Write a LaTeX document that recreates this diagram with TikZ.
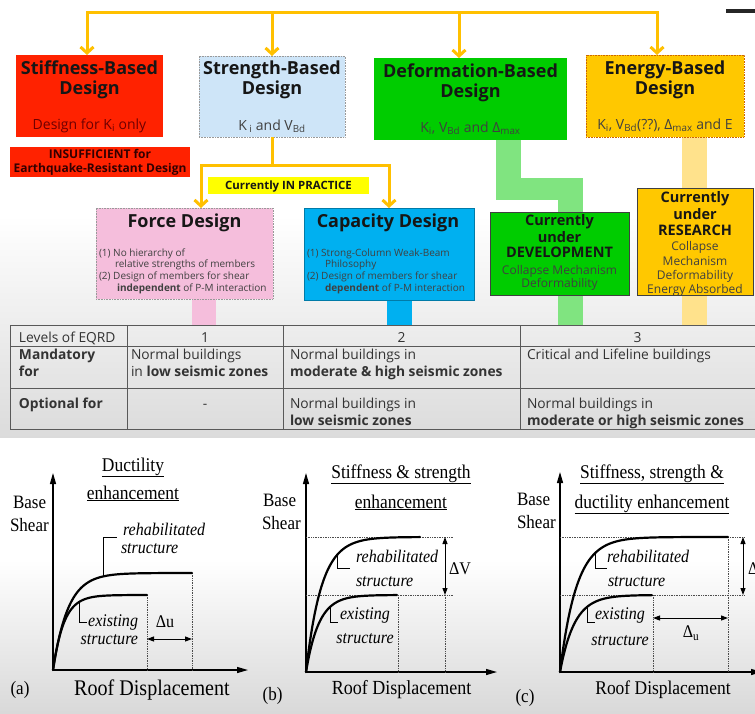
\documentclass[tikz,border=0pt]{standalone}
\usepackage{fontspec}
\setmainfont{Open Sans}
\newfontfamily\plotfont[FakeStretch=0.9]{Liberation Serif}
\usetikzlibrary{arrows.meta}
\definecolor{arrowyel}{RGB}{255,192,0}
\definecolor{stiffred}{RGB}{255,34,0}
\definecolor{strblue}{RGB}{206,229,248}
\definecolor{defgreen}{RGB}{0,204,0}
\definecolor{engyel}{RGB}{255,200,0}
\definecolor{practyel}{RGB}{255,255,0}
\definecolor{forcepink}{RGB}{245,190,220}
\definecolor{capblue}{RGB}{0,176,240}
\definecolor{lgreen}{RGB}{128,228,128}
\definecolor{lyel}{RGB}{255,226,140}
\definecolor{txtdark}{RGB}{22,22,22}
\definecolor{darkred}{RGB}{110,0,0}
\newcommand\setfs[1]{\fontsize{#1}{#1}\selectfont}
\newcommand\mysub[1]{\textsubscript{#1}}
\begin{document}
\begin{tikzpicture}[x=1pt,y=-1pt,
  txt/.style={inner sep=0pt,outer sep=0pt,anchor=base},
  txtl/.style={txt,anchor=base west},
  boxn/.style={rectangle,inner sep=0pt,outer sep=0pt},
  yline/.style={draw=arrowyel,line width=3pt},
  yarrow/.style={yline,-{Straight Barb[length=6pt,width=13pt]}},
  ttl/.style={txt,font=\setfs{18}\bfseries,text=txtdark},
  boxsub/.style={txt,font=\setfs{14},text=black!75},
  item/.style={txtl,font=\setfs{10},text=black!75},
  tab/.style={txtl,font=\setfs{13.8},text=black!80},
  tabb/.style={txtl,font=\setfs{13.8}\bfseries,text=black!80},
  tabc/.style={txt,font=\setfs{13.8},text=black!80},
  bld/.style={txt,font=\setfs{14.5}\bfseries,text=txtdark},
  reg/.style={txt,font=\setfs{12},text=black!75},
  tabline/.style={line width=0.9pt,black!65},
  axis/.style={line width=1.3pt,-{Triangle[length=11pt,width=6pt]}},
  curve/.style={line width=2.2pt,line cap=round},
  lead/.style={line width=0.8pt},
  dots/.style={densely dotted,line width=0.7pt,black!70},
  darr/.style={line width=1pt,{Triangle[length=7pt,width=5pt]}-{Triangle[length=7pt,width=5pt]}},
  ptxt/.style={txt,font=\plotfont\setfs{18.9}},
  pit/.style={txt,font=\plotfont\itshape\setfs{17.8}},
  ptitle/.style={txt,font=\plotfont\setfs{19.4}},
  pdel/.style={txt,font=\plotfont\setfs{17.8}},
]
\useasboundingbox (0,0) rectangle (755,713);
% background
\fill[white] (0,0) rectangle (755,713);
\shade[top color=white,bottom color=black!14] (0,215) rectangle (755,437);
\shade[top color=white,bottom color=black!15] (0,560) rectangle (755,713);
\fill[black!85] (726,9) rectangle (755,13);

% bands behind lower boxes
\fill[lgreen] (496,140) rectangle (521,200);
\fill[lgreen] (496,178) rectangle (583,200);
\fill[lgreen] (558,178) rectangle (583,325);
\fill[lyel] (682,137) rectangle (707,325);
\fill[forcepink] (192,299) rectangle (216,325);
\fill[capblue] (387,300) rectangle (412,325);

% boxes
\node[boxn,fill=stiffred,minimum width=147pt,minimum height=82pt] (stiff) at (89.5,96) {};
\node[boxn,fill=stiffred,minimum width=180pt,minimum height=30pt] (insuff) at (100,162) {};
\node[boxn,fill=strblue,draw=black!40,densely dotted,line width=.6pt,minimum width=146pt,minimum height=81pt] (strength) at (272,96.5) {};
\node[boxn,fill=defgreen,minimum width=193pt,minimum height=82pt] (deform) at (470.5,99) {};
\node[boxn,fill=engyel,draw=orange!80!black,densely dotted,line width=.6pt,minimum width=158pt,minimum height=82pt] (energy) at (665,96) {};
\node[boxn,fill=practyel,minimum width=161pt,minimum height=17pt] (practice) at (288.5,185.5) {};
\node[boxn,fill=forcepink,draw=black!40,densely dotted,line width=.6pt,minimum width=177pt,minimum height=91pt] (force) at (184.5,253.5) {};
\node[boxn,fill=capblue,draw=capblue!70!black,line width=.5pt,minimum width=170pt,minimum height=92pt] (capacity) at (389,254) {};
\node[boxn,fill=defgreen,draw=black!75,line width=.8pt,minimum width=139pt,minimum height=83pt] (devel) at (559.5,253.5) {};
\node[boxn,fill=engyel,draw=black!75,line width=.8pt,minimum width=116pt,minimum height=107pt] (research) at (695,241.5) {};

% arrows
\coordinate (b1) at (87,12);
\coordinate (b2) at (272,12);
\coordinate (b3) at (459,12);
\coordinate (b4) at (657,12);
\draw[yline,line cap=rect] (b1) -- (b4);
\draw[yarrow] (b1) -- (b1 |- stiff.north);
\draw[yarrow] (b2) -- (strength.north);
\draw[yarrow] (b3) -- (b3 |- deform.north);
\draw[yarrow] (b4) -- (b4 |- energy.north);
\coordinate (sj) at (272,165);
\coordinate (fj) at (201,165);
\coordinate (cj) at (389,165);
\draw[yline] (strength.south) -- (sj);
\draw[yline,line cap=rect] (fj) -- (cj);
\draw[yarrow] (fj) -- (fj |- force.north);
\draw[yarrow] (cj) -- (capacity.north);

% texts top boxes
\node[ttl] (stiffT1) at (89.5,74.5) {Stiffness-Based};
\node[ttl] (stiffT2) at (89.5,94.5) {Design};
\node[boxsub,text=darkred] (stiffS) at (89.5,129) {Design for K\mysub{i} only};
\node[txt,font=\setfs{12}\bfseries,text=black!80!red] (ins1) at (100,158.3) {INSUFFICIENT for};
\node[txt,font=\setfs{12}\bfseries,text=black!80!red] (ins2) at (100,172.3) {Earthquake-Resistant Design};
\node[ttl] (strT1) at (272,74.5) {Strength-Based};
\node[ttl] (strT2) at (272,94.5) {Design};
\node[boxsub] (strS) at (272,130) {K\,\mysub{i} and V\mysub{Bd}};
\node[ttl] (defT1) at (470.5,77.5) {Deformation-Based};
\node[ttl] (defT2) at (470.5,97.5) {Design};
\node[boxsub] (defS) at (470.5,132) {K\mysub{i}, V\mysub{Bd} and Δ\mysub{max}};
\node[ttl] (engT1) at (665,74.5) {Energy-Based};
\node[ttl] (engT2) at (665,94.5) {Design};
\node[boxsub] (engS) at (665,129) {K\mysub{i}, V\mysub{Bd}(??), Δ\mysub{max} and E};
\node[txt,font=\setfs{11.4}\bfseries,text=txtdark] (practiceT) at (288.5,189.6) {Currently IN PRACTICE};

% force design
\node[ttl] (forceT) at (184.5,227.4) {Force Design};
\node[item] (f1) at (99,256.5) {(1) No hierarchy of};
\node[item] (f2) at (115,267.5) {relative strengths of members};
\node[item] (f3) at (99,279.5) {(2) Design of members for shear};
\node[item] (f4) at (117,291.5) {\textbf{independent} of P-M interaction};
% capacity design
\node[ttl] (capT) at (388,227.4) {Capacity Design};
\node[item] (c1) at (307,256.5) {(1) Strong-Column Weak-Beam};
\node[item] (c2) at (325,267.5) {Philosophy};
\node[item] (c3) at (307,279.5) {(2) Design of members for shear};
\node[item] (c4) at (325,291.5) {\textbf{dependent} of P-M interaction};
% development
\node[bld] (d1) at (559.5,225.2) {Currently};
\node[bld] (d2) at (559.5,242.2) {under};
\node[bld] (d3) at (559.5,257.2) {DEVELOPMENT};
\node[reg] (d4) at (559.5,274.3) {Collapse Mechanism};
\node[reg] (d5) at (559.5,287.3) {Deformability};
% research
\node[bld] (r1) at (695,202.2) {Currently};
\node[bld] (r2) at (695,219.2) {under};
\node[bld] (r3) at (695,235.2) {RESEARCH};
\node[reg] (r4) at (695,250.3) {Collapse};
\node[reg] (r5) at (695,265.3) {Mechanism};
\node[reg] (r6) at (695,279.3) {Deformability};
\node[reg] (r7) at (695,293.3) {Energy Absorbed};

% table
\foreach \yy in {325,346,388,429} \draw[tabline] (10,\yy) -- (760,\yy);
\foreach \xx in {10,127,283,520} \draw[tabline] (\xx,325) -- (\xx,429);
\node[tab] (lv) at (19,342) {Levels of EQRD};
\node[tabc] (l1) at (205,342) {1};
\node[tabc] (l2) at (401.5,342) {2};
\node[tabc] (l3) at (637.5,342) {3};
\node[tabb] (mand1) at (19,359) {Mandatory};
\node[tabb] (mand2) at (19,376) {for};
\node[tab] (m1a) at (131,359) {Normal buildings};
\node[tab] (m1b) at (131,376) {in \textbf{low seismic zones}};
\node[tab] (m2a) at (290,359) {Normal buildings in};
\node[tab] (m2b) at (290,376) {\textbf{moderate \& high seismic zones}};
\node[tab] (m3a) at (527,359) {Critical and Lifeline buildings};
\node[tabb] (opt) at (19,408) {Optional for};
\node[tabc] (o1) at (205,408) {-};
\node[tab] (o2a) at (290,408) {Normal buildings in};
\node[tab] (o2b) at (290,425) {\textbf{low seismic zones}};
\node[tab] (o3a) at (527,408) {Normal buildings in};
\node[tab] (o3b) at (527,425) {\textbf{moderate or high seismic zones}};

% ---------- plot (a)
\coordinate (oa) at (53,670);
\coordinate (yta) at (53,473);
\coordinate (xta) at (248,670);
\draw[axis] (oa) -- (yta);
\draw[axis] (oa) -- (xta);
\draw[dots] (147,595) -- (147,670);
\draw[dots] (192,573) -- (192,670);
\draw[curve] plot[domain=0:139,samples=90] ({53+\x},{670-97*(1-exp(-\x/15))});
\draw[curve] plot[domain=0:94,samples=90] ({53+\x},{670-75*(1-exp(-\x/11))});
\coordinate (dua1) at (147,639);
\coordinate (dua2) at (192,639);
\draw[darr] (dua1) -- (dua2);
\draw[lead] (103,577) -- (103,537) -- (117,537);
\draw[lead] (79,602) -- (79,622) -- (87,622);
\node[ptxt,anchor=base west] (basea) at (13,508) {Base};
\node[ptxt,anchor=base west] (sheara) at (10,531) {Shear};
\node[ptitle] (ta1) at (133,471) {\underline{Ductility}};
\node[ptitle] (ta2) at (133,499) {\underline{enhancement}};
\node[pit,anchor=base west] (ra1) at (123,535.5) {rehabilitated};
\node[pit,anchor=base west] (ra2) at (121,553) {structure};
\node[pit,anchor=base east] (ea1) at (138,626) {existing};
\node[pit,anchor=base east] (ea2) at (138,644) {structure};
\node[pdel] (dula) at (165,627.5) {Δu};
\node[ptxt] (la) at (20,694.5) {(a)};
\node[txt,font=\plotfont\setfs{22.3}] (rda) at (152,695) {Roof Displacement};

% ---------- plot (b)
\coordinate (ob) at (306,672);
\coordinate (ytb) at (306,473);
\coordinate (xtb) at (497,672);
\draw[axis] (ob) -- (ytb);
\draw[axis] (ob) -- (xtb);
\draw[dots] (306,537) -- (453,537);
\draw[dots] (306,595) -- (453,595);
\draw[dots] (398,595) -- (398,672);
\draw[dots] (445,595) -- (445,672);
\draw[curve] plot[domain=0:114,samples=90] ({306+\x},{672-135*(1-exp(-\x/15.4))});
\draw[curve] plot[domain=0:91,samples=90] ({306+\x},{672-77*(1-exp(-\x/12.9))});
\coordinate (dvb1) at (445,537);
\coordinate (dvb2) at (445,595);
\draw[darr] (dvb1) -- (dvb2);
\draw[lead] (337,555) -- (337,568) -- (350,568);
\draw[lead] (330,607) -- (330,622) -- (338,622);
\node[ptxt,anchor=base west] (baseb) at (263,506) {Base};
\node[ptxt,anchor=base west] (shearb) at (262,529) {Shear};
\node[ptitle] (tb1) at (401,478) {\underline{Stiffness \& strength}};
\node[ptitle] (tb2) at (401,508) {\underline{enhancement}};
\node[pit,anchor=base west] (rb1) at (356,562.5) {rehabilitated};
\node[pit,anchor=base west] (rb2) at (356,586) {structure};
\node[pit] (eb1) at (365,619.5) {existing};
\node[pit] (eb2) at (365,643) {structure};
\node[pdel] (dvlb) at (460,574.5) {ΔV};
\node[ptxt] (lb) at (272.5,700.5) {(b)};
\node[txt,font=\plotfont\setfs{20}] (rdb) at (401.7,694.5) {Roof Displacement};

% ---------- plot (c)
\coordinate (oc) at (560,672);
\coordinate (ytc) at (560,472);
\coordinate (xtc) at (762,672);
\draw[axis] (oc) -- (ytc);
\draw[axis] (oc) -- (xtc);
\draw[dots] (560,537) -- (745,537);
\draw[dots] (560,595) -- (745,595);
\draw[dots] (653,595) -- (653,672);
\draw[dots] (728,537) -- (728,672);
\draw[curve] plot[domain=0:168,samples=100] ({560+\x},{672-135*(1-exp(-\x/16.5))});
\draw[curve] plot[domain=0:92,samples=90] ({560+\x},{672-77*(1-exp(-\x/14.5))});
\coordinate (dvc1) at (743,537);
\coordinate (dvc2) at (743,595);
\draw[darr] (dvc1) -- (dvc2);
\coordinate (duc1) at (653,618);
\coordinate (duc2) at (728,618);
\draw[darr] (duc1) -- (duc2);
\draw[lead] (595,553) -- (595,568) -- (607,568);
\draw[lead] (587,607) -- (587,622) -- (595,622);
\node[ptxt,anchor=base west] (basec) at (517,505) {Base};
\node[ptxt,anchor=base west] (shearc) at (517,528) {Shear};
\node[ptitle] (tc1) at (652,478) {\underline{Stiffness, strength \&}};
\node[ptitle] (tc2) at (652,508) {\underline{ductility enhancement}};
\node[pit,anchor=base west] (rc1) at (607,562.5) {rehabilitated};
\node[pit,anchor=base west] (rc2) at (608,586.5) {structure};
\node[pit] (ec1) at (620,619.5) {existing};
\node[pit] (ec2) at (620,645) {structure};
\node[pdel] (dulc) at (691,637.5) {Δ\textsubscript{u}};
\node[pdel,anchor=base west] (dvlc) at (748,574.5) {ΔV};
\node[ptxt] (lc) at (525,702.5) {(c)};
\node[txt,font=\plotfont\setfs{19.4}] (rdc) at (663,694.5) {Roof Displacement};
\end{tikzpicture}
\end{document}
